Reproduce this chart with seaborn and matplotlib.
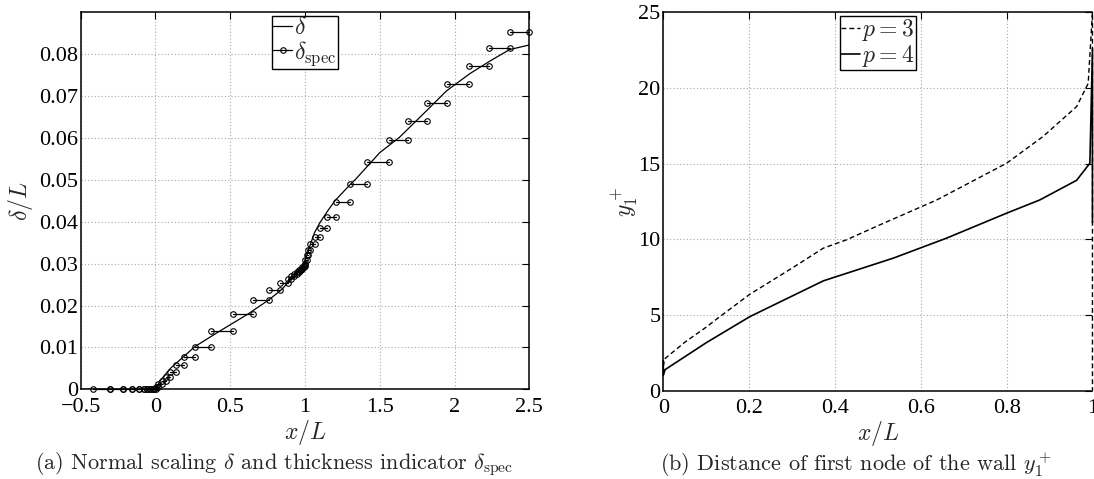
import numpy as np
import pandas as pd
import seaborn as sns
import matplotlib.pyplot as plt

# %% DATA

# boundary layer thickness delta/L along the plate
delta_x = [-0.5, 0.0, 0.03, 0.1, 0.185, 0.264, 0.43, 0.62, 0.76, 0.85, 0.9, 0.95, 0.98,
           1.0, 1.03, 1.065, 1.1, 1.15, 1.2, 1.3, 1.34, 1.5, 1.63, 1.81, 1.945, 2.1,
           2.234, 2.368, 2.5]
delta_y = [0.0, 0.0, 0.002, 0.005, 0.0077, 0.0102, 0.0139, 0.018, 0.0214, 0.024, 0.0262,
           0.0278, 0.029, 0.0305, 0.034, 0.0375, 0.0398, 0.0425, 0.045, 0.0488, 0.0502,
           0.0565, 0.0601, 0.0664, 0.0712, 0.0753, 0.0783, 0.0811, 0.0822]

# thickness indicator delta_spec: step edges in x/L and the level of each step
spec_edges = [-0.416, -0.304, -0.22, -0.16, -0.113, -0.077, -0.055, -0.037, -0.019, -0.008,
              0.006, 0.02, 0.043, 0.070, 0.096, 0.137, 0.192, 0.266, 0.368, 0.519, 0.653,
              0.76, 0.831, 0.883, 0.905, 0.925, 0.945, 0.96, 0.972, 0.982, 0.99, 0.997,
              1.003, 1.01, 1.02, 1.036, 1.067, 1.103, 1.147, 1.21, 1.299, 1.414, 1.561,
              1.691, 1.815, 1.949, 2.096, 2.232, 2.368, 2.5]
spec_levels = [0, 0, 0, 0, 0, 0, 0, 0, 0, 0,
               0.0006, 0.0012, 0.0020, 0.0029, 0.0041, 0.0057, 0.0076, 0.0102, 0.0139,
               0.0180, 0.0214, 0.0237, 0.0254, 0.0264, 0.0270, 0.0276, 0.0281, 0.0285,
               0.0288, 0.0291, 0.0294, 0.0300, 0.0308, 0.0320, 0.0333, 0.0347, 0.0364,
               0.0385, 0.0412, 0.0446, 0.0490, 0.0542, 0.0594, 0.0640, 0.0683, 0.0729,
               0.0773, 0.0814, 0.0852]

# distance of first node from the wall, y1+
p3_x = [0.0, 0.003, 0.05, 0.1, 0.132, 0.202, 0.3, 0.373, 0.427, 0.5, 0.637, 0.8, 0.885,
        0.963, 0.99, 1.0, 1.0]
p3_y = [1.6, 2.1, 3.2, 4.2, 4.9, 6.38, 8.1, 9.42, 9.97, 10.9, 12.6, 15.03, 16.8, 18.77,
        20.3, 25.0, 0.0]
p4_x = [0.0, 0.0, 0.004, 0.1, 0.202, 0.373, 0.536, 0.66, 0.8, 0.877, 0.963, 0.994, 1.0, 1.0]
p4_y = [2.0, 1.0, 1.39, 3.17, 4.9, 7.26, 8.76, 10.08, 11.73, 12.6, 13.9, 15.03, 22.6, 11.1]

left_xticks = [-0.5, 0, 0.5, 1, 1.5, 2, 2.5]
left_xlabels = ['\u22120.5', '0', '0.5', '1', '1.5', '2', '2.5']
left_yticks = [0, 0.01, 0.02, 0.03, 0.04, 0.05, 0.06, 0.07, 0.08]
left_ylabels = ['0', '0.01', '0.02', '0.03', '0.04', '0.05', '0.06', '0.07', '0.08']
right_xticks = [0, 0.2, 0.4, 0.6, 0.8, 1]
right_xlabels = ['0', '0.2', '0.4', '0.6', '0.8', '1']
right_yticks = [0, 5, 10, 15, 20, 25]
right_ylabels = ['0', '5', '10', '15', '20', '25']

# %% ORGANISE

delta_df = pd.DataFrame({'x': delta_x, 'y': delta_y})
edges = np.array(spec_edges)
spec_df = pd.DataFrame({
    'seg': np.repeat(np.arange(len(spec_levels)), 2),
    'x': np.column_stack([edges[:-1], edges[1:]]).ravel(),
    'y': np.repeat(spec_levels, 2),
})
p3_df = pd.DataFrame({'x': p3_x, 'y': p3_y})
p4_df = pd.DataFrame({'x': p4_x, 'y': p4_y})

# %% STYLE

sns.set_style('white')
plt.rcParams['font.family'] = ['Liberation Serif', 'DejaVu Serif']
plt.rcParams['mathtext.fontset'] = 'cm'
plt.rcParams['axes.linewidth'] = 1.1

fig = plt.figure(figsize=(10.94, 4.79), dpi=100)
ax1 = fig.add_axes([0.0738, 0.1873, 0.4100, 0.7870])
ax2 = fig.add_axes([0.6063, 0.1843, 0.3923, 0.7900])

grid_kw = dict(color='#a8a8a8', linestyle=(0, (1, 2)), linewidth=0.8)
legend_kw = dict(loc='upper center', frameon=True, fancybox=False, edgecolor='k',
                 framealpha=1, fontsize=17, handlelength=0.8, handletextpad=0.1,
                 labelspacing=0.0, borderpad=0.05, borderaxespad=0.15)

# %% LEFT: delta and delta_spec

sns.lineplot(data=delta_df, x='x', y='y', sort=False, estimator=None,
             color='k', linewidth=0.9, ax=ax1)
sns.lineplot(data=spec_df, x='x', y='y', units='seg', estimator=None,
             color='k', linewidth=0.9, marker='o', markersize=4,
             markerfacecolor='none', markeredgecolor='k', markeredgewidth=0.8,
             clip_on=False, ax=ax1)

ax1.set_xlim(-0.5, 2.5)
ax1.set_ylim(0, 0.09)
ax1.set_xticks(left_xticks, left_xlabels)
ax1.set_yticks(left_yticks, left_ylabels)
ax1.set_xlabel(r'$x/L$', fontsize=17, labelpad=1)
ax1.set_ylabel(r'$\delta/L$', fontsize=17)
ax1.yaxis.set_label_coords(-0.102, 0.5)

lines = ax1.get_lines()
ax1.legend([lines[0], lines[1]], [r'$\delta$', r'$\delta_{\rm spec}$'], **legend_kw)

# %% RIGHT: y1+

sns.lineplot(data=p3_df, x='x', y='y', sort=False, estimator=None,
             color='k', linewidth=1.0, linestyle=(0, (3.5, 2.2)), clip_on=False, ax=ax2)
sns.lineplot(data=p4_df, x='x', y='y', sort=False, estimator=None,
             color='k', linewidth=1.2, clip_on=False, ax=ax2)

ax2.set_xlim(0, 1)
ax2.set_ylim(0, 25)
ax2.set_xticks(right_xticks, right_xlabels)
ax2.set_yticks(right_yticks, right_ylabels)
ax2.set_xlabel(r'$x/L$', fontsize=17, labelpad=1)
ax2.set_ylabel(r'$y_1^+$', fontsize=17)
ax2.yaxis.set_label_coords(-0.052, 0.5)
ax2.spines['right'].set_visible(False)

lines = ax2.get_lines()
ax2.legend([lines[0], lines[1]], [r'$p=3$', r'$p=4$'], **legend_kw)

for ax in (ax1, ax2):
    ax.grid(True, **grid_kw)
    ax.set_axisbelow(True)
    ax.tick_params(direction='in', top=True, right=True, length=5, width=0.8,
                   labelsize=16, colors='k')
    ax.tick_params(axis='x', pad=6)
    ax.tick_params(axis='y', pad=2)
    for s in ax.spines.values():
        s.set_color('k')

# %% CAPTIONS

fig.text(0.032, 0.031, r'(a) Normal scaling $\delta$ and thickness indicator $\delta_{\rm spec}$',
         fontsize=16, family='cmr10', va='center', ha='left')
fig.text(0.603, 0.031, r'(b) Distance of first node of the wall $y_1^+$',
         fontsize=16, family='cmr10', va='center', ha='left')

fig.savefig('out.png', dpi=100)
